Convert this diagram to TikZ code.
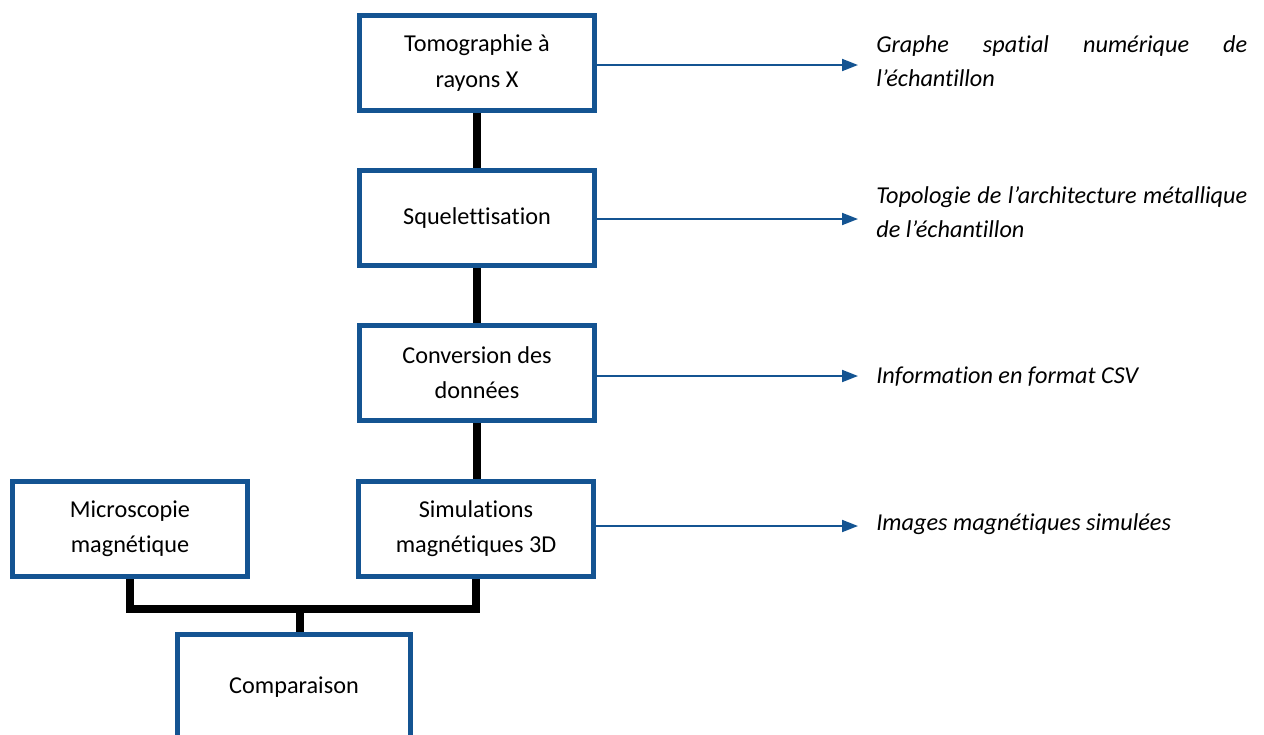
\documentclass[tikz,border=0pt]{standalone}
\usepackage{fontspec}
\setmainfont{Carlito}[Ligatures={NoCommon}]
\usetikzlibrary{arrows.meta,backgrounds}

\definecolor{boxblue}{RGB}{20,84,146}

\tikzset{
  stepbox/.style={draw=boxblue, line width=2.85pt, fill=white, minimum width=4.7cm,
    minimum height=1.91cm, inner sep=0pt, align=center,
    font=\fontsize{13.8}{20}\selectfont},
  link/.style={line width=4pt, black},
  outarrow/.style={draw=boxblue, line width=1.1pt,
    -{Triangle[length=0.32cm, width=0.24cm, fill=boxblue]}},
  outtext/.style={anchor=west, text width=7.42cm, align=justify, inner sep=0pt,
    font=\fontsize{13.8}{19}\selectfont\itshape}
}

\begin{document}
\begin{tikzpicture}[x=0.02cm, y=-0.02cm]

  \useasboundingbox (0,0) rectangle (1264,734);

  % -- Main chain --
  \node[stepbox] (tomo) at (477,63) {Tomographie à\\rayons X};
  \node[stepbox] (sque) at (477,218) {Squelettisation};
  \node[stepbox] (conv) at (477,373) {Conversion des\\données};
  \node[stepbox] (simu) at (476,529) {Simulations\\magnétiques 3D};

  % -- Side branch --
  \node[stepbox] (micro) at (130,529) {Microscopie\\magnétique};
  \node[stepbox, minimum width=4.66cm, minimum height=2.1cm] (compa) at (294,687) {Comparaison};

  % -- Connectors --
  \coordinate (jn) at (300,609);
  \begin{pgfonlayer}{background}
    \draw[link] (tomo.south) -- (sque.north);
    \draw[link] (sque.south) -- (conv.north);
    \draw[link] (conv.south) -- (conv.south |- simu.north);
    \draw[link] (micro.south) |- (jn) -| (simu.south);
    \draw[link] (jn) -- (jn |- compa.north);
  \end{pgfonlayer}

  % -- Outputs --
  \coordinate (o1) at (858,65);
  \coordinate (o2) at (858,219);
  \coordinate (o3) at (858,376);
  \coordinate (o4) at (858,526);
  \draw[outarrow] (tomo.east |- o1) -- (o1);
  \draw[outarrow] (sque.east |- o2) -- (o2);
  \draw[outarrow] (conv.east |- o3) -- (o3);
  \draw[outarrow] (simu.east |- o4) -- (o4);

  \node[outtext] (t1) at (876,61) {Graphe spatial numérique de\linebreak l’échantillon};
  \node[outtext] (t2) at (876,212) {Topologie de l’architecture métallique\linebreak de l’échantillon};
  \node[outtext] (t3) at (876,377) {Information en format CSV};
  \node[outtext] (t4) at (876,524) {Images magnétiques simulées};

\end{tikzpicture}
\end{document}
